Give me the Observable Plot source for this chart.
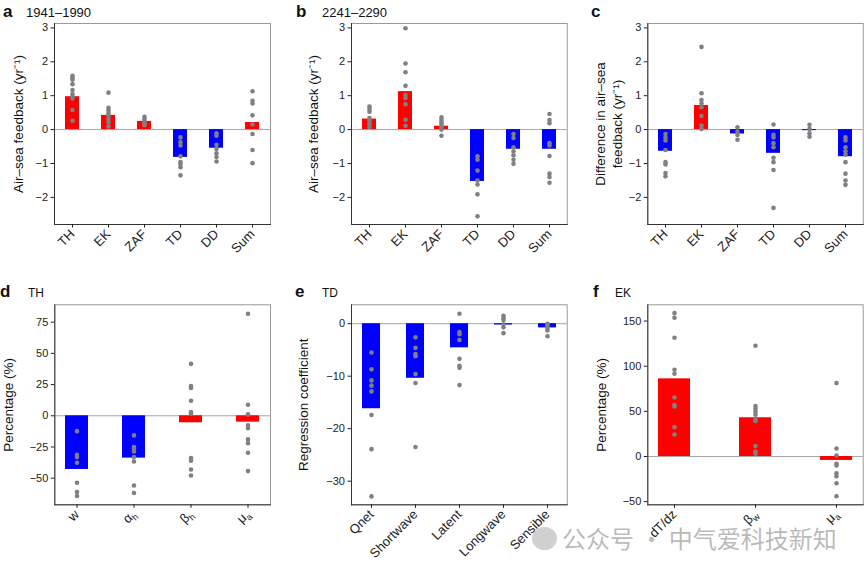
<!DOCTYPE html>
<html><head><meta charset="utf-8">
<script src="https://cdn.jsdelivr.net/npm/d3@7"></script>
<script src="https://cdn.jsdelivr.net/npm/@observablehq/plot@0.6"></script>
<style>
body{margin:0;background:#fff;font-family:"Liberation Sans",Arial,sans-serif;}
#wrap{position:relative;width:864px;height:572px;overflow:hidden;background:#fff;}
.panel{position:absolute;}
.txt{position:absolute;line-height:1;white-space:nowrap;color:#111;}
</style></head><body><div id="wrap"></div>
<script>
// ---------------- data ----------------
const catsTop = ["TH", "EK", "ZAF", "TD", "DD", "Sum"];

const effectA = ["amplifying", "amplifying", "amplifying", "damping", "damping", "amplifying"];
const barsA = [0.97, 0.42, 0.24, -0.82, -0.55, 0.21];
const dotsA = [
  [1.59, 1.54, 1.47, 1.34, 1.17, 1.05, 0.98, 0.92, 0.58, 0.26],
  [1.09, 0.64, 0.56, 0.48, 0.41, 0.31, 0.22, 0.09],
  [0.38, 0.31, 0.25, 0.19, 0.13],
  [-0.23, -0.37, -0.47, -0.79, -0.96, -1.03, -1.11, -1.35],
  [-0.11, -0.18, -0.45, -0.57, -0.70, -0.81, -0.94],
  [1.13, 0.85, 0.77, 0.42, 0.15, -0.13, -0.60, -0.99]
];

const effectB = ["amplifying", "amplifying", "amplifying", "damping", "damping", "damping"];
const barsB = [0.31, 1.12, 0.10, -1.53, -0.58, -0.58];
const dotsB = [
  [0.68, 0.61, 0.53, 0.34, 0.26, 0.17, 0.07],
  [2.99, 1.95, 1.69, 1.29, 1.02, 0.93, 0.75, 0.29, 0.11],
  [0.36, 0.28, 0.22, 0.15, 0.07, 0.0, -0.18],
  [-0.79, -0.89, -1.21, -1.50, -1.62, -1.91, -2.56],
  [-0.13, -0.25, -0.52, -0.64, -0.76, -0.89, -1.01],
  [0.46, 0.28, 0.19, -0.40, -0.47, -0.78, -1.30, -1.40, -1.57]
];

const effectC = ["damping", "amplifying", "damping", "damping", "damping", "damping"];
const barsC = [-0.64, 0.71, -0.13, -0.70, -0.03, -0.80];
const dotsC = [
  [-0.13, -0.23, -0.32, -0.60, -0.96, -1.03, -1.28, -1.38],
  [2.44, 1.07, 0.87, 0.77, 0.66, 0.40, 0.12, 0.02],
  [0.07, -0.06, -0.16, -0.30],
  [0.15, -0.15, -0.23, -0.40, -0.52, -0.83, -0.96, -1.19, -2.31],
  [0.14, 0.02, -0.11, -0.21],
  [-0.23, -0.32, -0.52, -0.64, -0.74, -0.96, -1.30, -1.50, -1.63]
];

const catsD = ["w", "α_h", "β_h", "μ_a"];
const effectD = ["damping", "damping", "amplifying", "amplifying"];
const barsD = [-43, -33.9, -5.6, -5.1];
const dotsD = [
  [-12.3, -31.2, -33.1, -37.6, -53.6, -61.1, -64.3],
  [-15.7, -25.1, -26.4, -28.6, -33.1, -36.6, -55.8, -61.9],
  [41.6, 23.8, 22.2, 12, 2.9, 1.6, -33.9, -36, -43, -47.8],
  [81.7, 8.8, 1.1, -7.7, -9.9, -18.9, -21.9, -29.6, -44.3]
];

const catsE = ["Qnet", "Shortwave", "Latent", "Longwave", "Sensible"];
const effectE = ["damping", "damping", "damping", "damping", "damping"];
const barsE = [-16.2, -10.4, -4.6, -0.25, -0.8];
const dotsE = [
  [-5.5, -8.7, -10.8, -11.8, -12.9, -17.4, -23.9, -32.9],
  [-2.6, -4.6, -5.8, -6.2, -9.6, -11.3, -23.5],
  [1.9, -1.6, -2.0, -3.1, -6.7, -8.0, -8.4, -11.7],
  [1.5, 1.1, 0.7, -0.1, -0.7, -1.8],
  [0, -0.3, -0.8, -1.3, -2.4]
];

const catsF = ["dT/dz", "β_w", "μ_a"];
const effectF = ["amplifying", "amplifying", "amplifying"];
const barsF = [86, 42.9, -4.4];
const dotsF = [
  [158.8, 153.7, 131.5, 96, 91.6, 65.4, 56.9, 55.4, 32.5, 24.4],
  [122.6, 55.8, 52.8, 49.9, 46.2, 40.6, 39.2, 11.5, 5.5, 3],
  [81.3, 8.9, 1.1, -8.1, -10, -18.5, -21.8, -29.6, -44]
];

const ticksTop = [-2, -1, 0, 1, 2, 3];
const ticksD = [-50, -25, 0, 25, 50, 75];
const ticksE = [-30, -20, -10, 0];
const ticksF = [-50, 0, 50, 100, 150];

const letters = ["a", "b", "c", "d", "e", "f"];
const subtitles = ["1941–1990", "2241–2290", "", "TH", "TD", "EK"];
const yLabels = [
  "Air–sea feedback (yr⁻¹)",
  "Air–sea feedback (yr⁻¹)",
  "Difference in air–sea\nfeedback (yr⁻¹)",
  "Percentage (%)",
  "Regression coefficient",
  "Percentage (%)"
];
const watermark = "公众号 · 中气爱科技新知";

// ---------------- drawing ----------------
const wrap = document.getElementById("wrap");
const FONT = "'Liberation Sans', Arial, sans-serif";
const fmtTick = d => (d < 0 ? "−" : "") + Math.abs(d);

function addText(x, baseline, text, size, weight) {
  const d = document.createElement("div");
  d.className = "txt";
  d.style.left = x + "px";
  d.style.top = (baseline - 0.85 * size) + "px";
  d.style.fontSize = size + "px";
  d.style.fontWeight = weight || "normal";
  d.textContent = text;
  wrap.appendChild(d);
}

function subscriptTicks(svg) {
  svg.querySelectorAll('g[aria-label="x-axis tick label"] text').forEach(t => {
    const s = t.textContent;
    if (!s.includes("_")) return;
    const [base, sub] = s.split("_");
    while (t.firstChild) t.removeChild(t.firstChild);
    const a = document.createElementNS("http://www.w3.org/2000/svg", "tspan");
    a.textContent = base;
    const b = document.createElementNS("http://www.w3.org/2000/svg", "tspan");
    b.textContent = sub;
    b.setAttribute("font-size", "9");
    b.setAttribute("dy", "3");
    t.appendChild(a); t.appendChild(b);
  });
}

function panel(o) {
  const n = o.cats.length;
  const barData = o.cats.map((c, i) => ({cat: c, value: o.bars[i], effect: o.effect[i]}));
  const dotData = o.cats.flatMap((c, i) => o.dots[i].map(v => ({cat: c, value: v})));
  const svg = Plot.plot({
    width: o.width, height: o.height,
    marginTop: o.mt, marginBottom: o.mb, marginLeft: o.ml, marginRight: o.mr,
    style: {fontFamily: FONT, fontSize: "11px", color: "#222", background: "transparent", overflow: "visible"},
    x: {type: "band", domain: o.cats, paddingInner: 0.6, paddingOuter: 0.05 * (n - 0.6), label: null},
    y: {domain: o.yDomain, label: null},
    color: {domain: ["amplifying", "damping"], range: ["#ff0000", "#0000ff"]},
    marks: [
      Plot.ruleY([0], {stroke: "#a6a6a6", strokeWidth: 1}),
      Plot.barY(barData, {x: "cat", y: "value", fill: "effect"}),
      Plot.dot(dotData, {x: "cat", y: "value", r: 2.3, fill: "#808080", stroke: "none"}),
      Plot.frame({stroke: "#9a9a9a", strokeWidth: 1}),
      Plot.frame({anchor: "left", stroke: "#333", strokeWidth: 1}),
      Plot.frame({anchor: "bottom", stroke: "#333", strokeWidth: 1}),
      Plot.axisY({ticks: o.yTicks, tickFormat: fmtTick, tickSize: 3.5, tickPadding: 3, fontSize: 11, label: null}),
      Plot.axisX({tickRotate: -45, tickSize: 3.5, tickPadding: 4, fontSize: 13, label: null}),
      Plot.text([o.yLabel], {text: d => d, frameAnchor: "left", dx: o.labelDx, rotate: -90,
        textAnchor: "middle", lineAnchor: "middle", fontSize: 13.5, lineHeight: 1.25, fill: "#111"})
    ]
  });
  subscriptTicks(svg);
  const div = document.createElement("div");
  div.className = "panel";
  div.style.left = o.left + "px";
  div.style.top = o.top + "px";
  div.appendChild(svg);
  wrap.appendChild(div);
}

const topRow = {top: 0, height: 270, mt: 23, mb: 46};
const botRow = {top: 275, height: 297, mt: 29.3, mb: 67.7};

panel({...topRow, left: 0, width: 288, ml: 54, mr: 18, cats: catsTop, bars: barsA, effect: effectA, dots: dotsA,
  yDomain: [-2.8, 3.13], yTicks: ticksTop, yLabel: yLabels[0], labelDx: -36.5});
panel({...topRow, left: 288, width: 288, ml: 63, mr: 9.3, cats: catsTop, bars: barsB, effect: effectB, dots: dotsB,
  yDomain: [-2.8, 3.13], yTicks: ticksTop, yLabel: yLabels[1], labelDx: -39.3});
panel({...topRow, left: 576, width: 288, ml: 71.3, mr: 1.3, cats: catsTop, bars: barsC, effect: effectC, dots: dotsC,
  yDomain: [-2.8, 3.13], yTicks: ticksTop, yLabel: yLabels[2], labelDx: -40});
panel({...botRow, left: 0, width: 288, ml: 54.3, mr: 18, cats: catsD, bars: barsD, effect: effectD, dots: dotsD,
  yDomain: [-71.3, 88.9], yTicks: ticksD, yLabel: yLabels[3], labelDx: -46.8});
panel({...botRow, left: 288, width: 288, ml: 63, mr: 9.3, cats: catsE, bars: barsE, effect: effectE, dots: dotsE,
  yDomain: [-34.5, 3.6], yTicks: ticksE, yLabel: yLabels[4], labelDx: -48.5});
panel({...botRow, left: 576, width: 288, ml: 71.3, mr: 1.3, cats: catsF, bars: barsF, effect: effectF, dots: dotsF,
  yDomain: [-53.5, 168], yTicks: ticksF, yLabel: yLabels[5], labelDx: -47.3});

// panel letters and subtitles
const letterPos = [[3, 17], [296, 17], [591, 17], [0, 297.5], [295, 297.5], [593, 297.5]];
const subPos = [[26, 17], [322, 17], [0, 0], [28, 297.5], [322, 297.5], [615, 297.5]];
const subSize = [13, 13, 13, 12, 12, 12];
letters.forEach((l, i) => {
  addText(letterPos[i][0], letterPos[i][1], l, 17, "bold");
  if (subtitles[i]) addText(subPos[i][0], subPos[i][1], subtitles[i], subSize[i]);
});

// watermark overlay
const ic = document.createElement("div");
ic.style.cssText = "position:absolute;left:532px;top:527px;width:25px;height:23px;border-radius:50%;background:rgba(150,150,150,0.45);";
wrap.appendChild(ic);
const wm = document.createElement("div");
wm.className = "txt";
wm.style.left = "562px"; wm.style.top = "526px";
wm.style.fontSize = "24px";
wm.style.fontFamily = "'Noto Sans CJK SC', sans-serif";
wm.style.color = "rgba(140,140,140,0.6)";
wm.textContent = watermark;
wrap.appendChild(wm);
</script>
</body></html>
